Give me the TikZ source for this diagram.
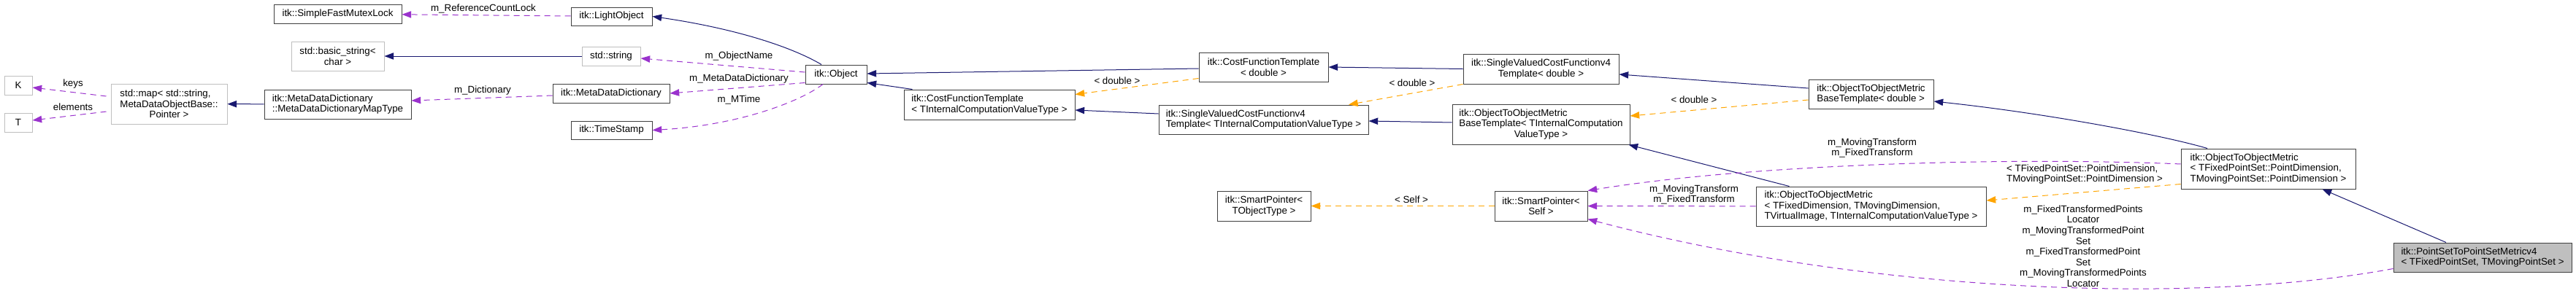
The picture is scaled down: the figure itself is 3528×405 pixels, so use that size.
\documentclass[tikz,border=0pt]{standalone}
\usepackage{fontspec}
\setmainfont{Liberation Sans}
\usetikzlibrary{arrows.meta,positioning}
\usepackage{xcolor}
\definecolor{dxBorder}{HTML}{404040}
\definecolor{dxExt}{HTML}{BFBFBF}
\definecolor{dxCur}{HTML}{BFBFBF}
\definecolor{dxNavy}{HTML}{191970}
\definecolor{dxOrange}{HTML}{FFA500}
\definecolor{dxPurple}{HTML}{9A32CD}
\newcommand\dxfont{\fontsize{10}{10.9}\selectfont}
\newcommand\lastc{\hspace*{0pt plus 1fil}}
\tikzset{
  cls/.style={draw=dxBorder, fill=white, line width=0.75pt, inner sep=0pt, font=\dxfont, align=left},
  ext/.style={cls, draw=dxExt},
  cur/.style={cls, fill=dxCur},
  bx/.style n args={2}{minimum width=#1*0.75pt, minimum height=#2*0.75pt},
  inh/.style={-{Triangle[length=9.5pt,width=7pt]}, line width=0.75pt, draw=dxNavy},
  tpl/.style={inh, draw=dxOrange, dash pattern=on 6pt off 4.5pt},
  usg/.style={inh, draw=dxPurple, dash pattern=on 6pt off 4.5pt},
  lbl/.style={font=\dxfont, inner sep=0pt, align=center},
}
\begin{document}
\begin{tikzpicture}[x=0.75pt, y=-0.75pt]
        \useasboundingbox (0,0) rectangle (3528,405);
        \node[ext, bx={38}{26}] (kkey) at (25,117) {K};
        \node[ext, bx={38}{26}] (tval) at (25,168) {T};
        \node[ext, bx={159}{55}] (stdmap) at (231.5,142.5) {std::map< std::string,\\ MetaDataObjectBase::\\\lastc Pointer >};
        \node[cls, bx={175}{26}] (mutex) at (462.5,19) {itk::SimpleFastMutexLock};
        \node[ext, bx={127}{40}] (basicstr) at (462.5,77) {std::basic\_string<\\\lastc char >};
        \node[cls, bx={201}{40}] (mapty) at (462.5,143) {itk::MetaDataDictionary\\::MetaDataDictionaryMapType};
        \node[cls, bx={111}{25}] (lightobj) at (837.5,22.5) {itk::LightObject};
        \node[ext, bx={80}{26}] (stdstr) at (837,77) {std::string};
        \node[cls, bx={160}{26}] (mdd) at (837,128) {itk::MetaDataDictionary};
        \node[cls, bx={111}{25}] (tstamp) at (837.5,178.5) {itk::TimeStamp};
        \node[cls, bx={84}{26}] (object) at (1145,102) {itk::Object};
        \node[cls, bx={234}{41}] (cftT) at (1355,143.5) {itk::CostFunctionTemplate\\< TInternalComputationValueType >};
        \node[cls, bx={177}{40}] (cftD) at (1730.5,92) {itk::CostFunctionTemplate\\\lastc< double >};
        \node[cls, bx={287}{40}] (svcfT) at (1730.5,164) {itk::SingleValuedCostFunctionv4\\Template< TInternalComputationValueType >};
        \node[cls, bx={128}{41}] (spT) at (1731,282.5) {itk::SmartPointer<\\\lastc TObjectType >};
        \node[cls, bx={213}{41}] (svcfD) at (2110.5,94.5) {itk::SingleValuedCostFunctionv4\\\lastc Template< double >};
        \node[cls, bx={243}{55}] (oombT) at (2110.5,170.5) {itk::ObjectToObjectMetric\\BaseTemplate< TInternalComputation\\\lastc ValueType >};
        \node[cls, bx={127}{41}] (spS) at (2110.5,282.5) {itk::SmartPointer<\\\lastc Self >};
        \node[cls, bx={171}{40}] (oombD) at (2562.5,129) {itk::ObjectToObjectMetric\\BaseTemplate< double >};
        \node[cls, bx={315}{54}] (oomT) at (2562.5,283) {itk::ObjectToObjectMetric\\< TFixedDimension, TMovingDimension,\\\lastc TVirtualImage, TInternalComputationValueType >};
        \node[cls, bx={239}{55}] (oomPS) at (3106.5,231.5) {itk::ObjectToObjectMetric\\< TFixedPointSet::PointDimension,\\\lastc TMovingPointSet::PointDimension >};
        \node[cur, bx={244}{40}] (ps2ps) at (3400,353) {itk::PointSetToPointSetMetricv4\\< TFixedPointSet, TMovingPointSet >};

        \node[lbl] (lkeys) at (100,115) {keys};
        \node[lbl] (lelem) at (100,147) {elements};
        \node[lbl] (lrcl) at (662,12) {m\_ReferenceCountLock};
        \node[lbl] (ldict) at (661,124) {m\_Dictionary};
        \node[lbl] (lname) at (1012,77) {m\_ObjectName};
        \node[lbl] (lmdd) at (1012,108) {m\_MetaDataDictionary};
        \node[lbl] (lmtime) at (1012,137) {m\_MTime};
        \node[lbl] (lcftd) at (1530,111) {< double >};
        \node[lbl] (lsvcfd) at (1934,114) {< double >};
        \node[lbl] (loombd) at (2320,137) {< double >};
        \node[lbl] (lself) at (1933,274) {< Self >};
        \node[lbl] (ltrf) at (2320,267) {m\_MovingTransform\\m\_FixedTransform};
        \node[lbl] (ltrfps) at (2564,203) {m\_MovingTransform\\m\_FixedTransform};
        \node[lbl, align=left] (ldim) at (2855,239) {< TFixedPointSet::PointDimension,\\TMovingPointSet::PointDimension >};
        \node[lbl] (lloc) at (2853,337.5) {m\_FixedTransformedPoints\\Locator\\m\_MovingTransformedPoint\\Set\\m\_FixedTransformedPoint\\Set\\m\_MovingTransformedPoints\\Locator};

        \draw[inh] (mapty) -- (stdmap); \draw[inh] (stdstr) -- (basicstr);
        \draw[inh] ([xshift=-15pt]object.north) .. controls (1080,62) and (1000,38) .. (lightobj.east);
        \draw[inh] ([xshift=9pt]cftT.north west) -- ([yshift=1.5pt]object.south east);
        \draw[inh] ([yshift=-1.5pt]cftD.west) -- ([yshift=0.75pt]object.east);
        \draw[inh] ([yshift=6pt]svcfT.west) -- ([yshift=-5.6pt]cftT.east);
        \draw[inh] (svcfD.west) -- (cftD.east);
        \draw[inh] ([yshift=1.9pt]oombT.west) -- ([yshift=-1.5pt]svcfT.east);
        \draw[inh] ([yshift=6pt]oombD.west) -- ([yshift=-5.6pt]svcfD.east);
        \draw[inh] ([xshift=-84pt]oomT.north) -- ([xshift=-1.5pt]oombT.south east);
        \draw[inh] ([xshift=-62.6pt]oomPS.north) .. controls (2960,185) and (2800,155) .. ([yshift=-7.5pt]oombD.east);
        \draw[inh] ([xshift=-37.5pt]ps2ps.north) -- ([xshift=-34.5pt]oomPS.south east);

        \draw[tpl] ([yshift=3.75pt]cftD.south west) -- ([yshift=-5.25pt]cftT.north east);
        \draw[tpl] (svcfD.south west) -- ([xshift=87.4pt]svcfT.north);
        \draw[tpl] ([yshift=-6pt]oombD.west) -- ([yshift=8.6pt]oombT.east);
        \draw[tpl] (spS) -- (spT);
        \draw[tpl] ([yshift=5.25pt]oomPS.south west) -- ([yshift=6pt]oomT.east);

        \draw[usg] ([xshift=-4.5pt,yshift=7.9pt]stdmap.west) -- ([yshift=-2.25pt]kkey.east);
        \draw[usg] ([xshift=-4.5pt,yshift=-7.9pt]stdmap.west) -- ([yshift=2.25pt]tval.east);
        \draw[usg] (lightobj) -- (mutex);
        \draw[usg] ([yshift=-2.25pt]mdd.west) -- ([yshift=3.75pt]mapty.east);
        \draw[usg] ([yshift=2.25pt]object.west) -- ([yshift=-2.25pt]stdstr.east);
        \draw[usg] ([yshift=1.5pt]object.south west) -- (mdd.east);
        \draw[usg] ([xshift=-13.5pt]object.south) .. controls (1095,140) and (1010,172) .. (tstamp.east);
        \draw[usg] (oomT) -- (spS);
        \draw[usg] ([yshift=4.9pt]oomPS.west) .. controls (2750,215) and (2400,225) .. (spS.north east);
        \draw[usg] ([yshift=3.75pt]ps2ps.south west) .. controls (3000,420) and (2550,400) .. ([yshift=2.25pt]spS.south east);
    \end{tikzpicture}
\end{document}
